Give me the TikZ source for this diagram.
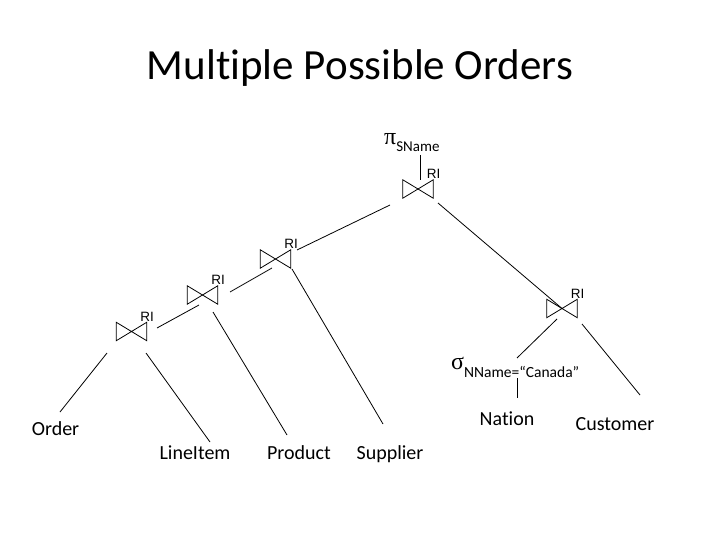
\documentclass[tikz,border=0pt]{standalone}
\usepackage{fontspec}
\setmainfont[Ligatures=NoCommon]{Carlito}
\newfontfamily\symfont{Liberation Serif}
\newfontfamily\rlfont{Liberation Sans}
\usetikzlibrary{positioning}

\begin{document}
\begin{tikzpicture}[x=1pt,y=-1pt,
  joinop/.style={minimum width=30pt,minimum height=18pt,inner sep=0pt,label={[rl]north east:RI}},
  rl/.style={anchor=base west,inner sep=0pt,xshift=-6.5pt,yshift=1pt,font=\rlfont\fontsize{13.5}{13.5}\selectfont},
  leaf/.style={anchor=base,inner sep=0pt,font=\fontsize{20}{20}\selectfont},
  edge/.style={line width=0.8pt}]
\useasboundingbox (0,0) rectangle (720,540);
\node[anchor=base,font=\fontsize{43}{43}\selectfont] (title) at (360,80) {Multiple Possible Orders};

% join operators
\node[joinop] (j0) at (418,189) {};
\node[joinop] (j1) at (275.5,259) {};
\node[joinop] (j2) at (202.5,295) {};
\node[joinop] (j3) at (131.5,331.5) {};
\node[joinop] (j4) at (562,308.5) {};
\foreach \j in {j0,j1,j2,j3,j4}
  \draw[edge] (\j.north west) -- (\j.south east) -- (\j.north east) -- (\j.south west) -- cycle;

% projection and selection
\node[anchor=base west,inner sep=0pt,font=\fontsize{24}{24}\selectfont] (proj) at (384,145) {{\symfont π}\raisebox{-7pt}{\fontsize{15}{15}\selectfont SName}};
\node[anchor=base west,inner sep=0pt,font=\fontsize{24}{24}\selectfont] (sel) at (451,369) {{\symfont σ}\raisebox{-8pt}{\fontsize{15.5}{15.5}\selectfont NName=“Canada”}};

% relations
\node[leaf] (ord) at (55.5,435) {Order};
\node[leaf] (li) at (195,459) {LineItem};
\node[leaf] (pro) at (299,459) {Product};
\node[leaf] (sup) at (390,459) {Supplier};
\node[leaf] (nat) at (507,425) {Nation};
\node[leaf] (cus) at (615,430) {Customer};

\draw[edge] ([shift={(36,10)}]proj.base west) -- ([shift={(2,-9)}]j0.center);
\draw[edge] ([shift={(-28,16)}]j0.center) -- ([shift={(21.5,-9)}]j1.center);
\draw[edge] ([shift={(20,14)}]j0.center) -- (j4.center);
\draw[edge] ([shift={(-3.5,9)}]j1.center) -- ([shift={(27.5,-3)}]j2.center);
\draw[edge] ([shift={(16.5,10)}]j1.center) -- ([shift={(-7,-35)}]sup.base);
\draw[edge] ([shift={(-3.5,10)}]j2.center) -- ([shift={(25.5,-3.5)}]j3.center);
\draw[edge] ([shift={(10.5,17)}]j2.center) -- ([shift={(-12,-24)}]pro.base);
\draw[edge] ([shift={(-24.5,21.5)}]j3.center) -- ([shift={(4.5,-23)}]ord.base);
\draw[edge] ([shift={(14.5,21.5)}]j3.center) -- ([shift={(15,-17)}]li.base);
\draw[edge] ([shift={(-5,10.5)}]j4.center) -- ([shift={(66,-11)}]sel.base west);
\draw[edge] ([shift={(20,15.5)}]j4.center) -- ([shift={(25,-35)}]cus.base);
\draw[edge] ([shift={(66,9)}]sel.base west) -- ([shift={(10,-27)}]nat.base);

\end{tikzpicture}
\end{document}
